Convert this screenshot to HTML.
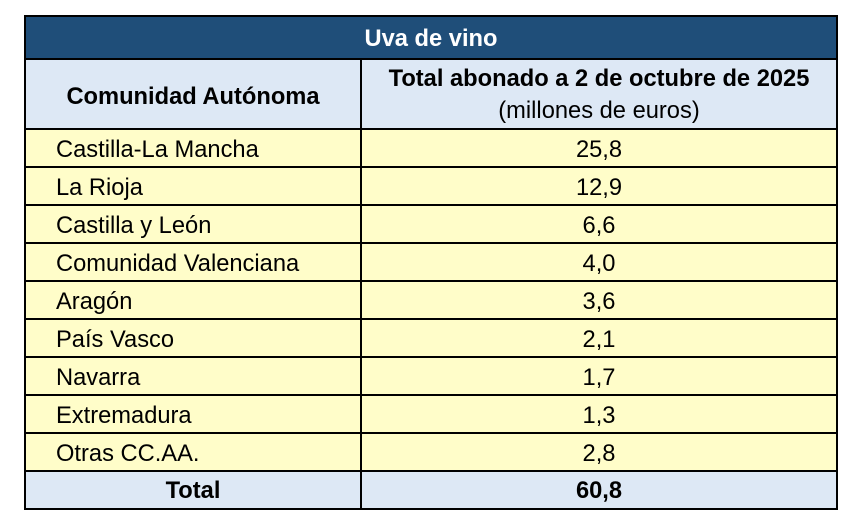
<!DOCTYPE html>
<html><head><style>
body{margin:0;width:866px;height:524px;background:#fff;font-family:"Liberation Sans",sans-serif;position:relative;overflow:hidden}
.b{position:absolute;box-sizing:border-box}
.t{position:absolute;white-space:nowrap;font-size:23.7px;color:#000}
</style></head><body>
<div class="b" style="left:24px;top:15px;width:814px;height:495px;border:2px solid #000;background:#fff"></div>
<div class="b" style="left:26px;top:17px;width:810px;height:41px;background:#1f4e79"></div>
<div class="b" style="left:26px;top:60px;width:810px;height:68px;background:#dde8f5"></div>
<div class="b" style="left:26px;top:130px;width:810px;height:340px;background:#fffdc9"></div>
<div class="b" style="left:26px;top:472px;width:810px;height:36px;background:#dde8f5"></div>
<div class="b" style="left:24px;top:58px;width:814px;height:2px;background:#000"></div>
<div class="b" style="left:24px;top:128px;width:814px;height:2px;background:#000"></div>
<div class="b" style="left:24px;top:166px;width:814px;height:2px;background:#000"></div>
<div class="b" style="left:24px;top:204px;width:814px;height:2px;background:#000"></div>
<div class="b" style="left:24px;top:242px;width:814px;height:2px;background:#000"></div>
<div class="b" style="left:24px;top:280px;width:814px;height:2px;background:#000"></div>
<div class="b" style="left:24px;top:318px;width:814px;height:2px;background:#000"></div>
<div class="b" style="left:24px;top:356px;width:814px;height:2px;background:#000"></div>
<div class="b" style="left:24px;top:394px;width:814px;height:2px;background:#000"></div>
<div class="b" style="left:24px;top:432px;width:814px;height:2px;background:#000"></div>
<div class="b" style="left:24px;top:470px;width:814px;height:2px;background:#000"></div>
<div class="b" style="left:360px;top:58px;width:2px;height:452px;background:#000"></div>
<div class="t" style="left:26px;width:810px;top:26px;text-align:center;color:#fff;font-weight:bold">Uva de vino</div>
<div class="t" style="left:26px;width:334px;top:84px;text-align:center;font-weight:bold">Comunidad Autónoma</div>
<div class="t" style="left:362px;width:474px;top:66px;text-align:center;font-weight:bold">Total abonado a 2 de octubre de 2025</div>
<div class="t" style="left:362px;width:474px;top:98px;text-align:center">(millones de euros)</div>
<div class="t" style="left:56px;top:137px">Castilla-La Mancha</div><div class="t" style="left:362px;width:474px;text-align:center;top:137px">25,8</div>
<div class="t" style="left:56px;top:175px">La Rioja</div><div class="t" style="left:362px;width:474px;text-align:center;top:175px">12,9</div>
<div class="t" style="left:56px;top:213px">Castilla y León</div><div class="t" style="left:362px;width:474px;text-align:center;top:213px">6,6</div>
<div class="t" style="left:56px;top:251px">Comunidad Valenciana</div><div class="t" style="left:362px;width:474px;text-align:center;top:251px">4,0</div>
<div class="t" style="left:56px;top:289px">Aragón</div><div class="t" style="left:362px;width:474px;text-align:center;top:289px">3,6</div>
<div class="t" style="left:56px;top:327px">País Vasco</div><div class="t" style="left:362px;width:474px;text-align:center;top:327px">2,1</div>
<div class="t" style="left:56px;top:365px">Navarra</div><div class="t" style="left:362px;width:474px;text-align:center;top:365px">1,7</div>
<div class="t" style="left:56px;top:403px">Extremadura</div><div class="t" style="left:362px;width:474px;text-align:center;top:403px">1,3</div>
<div class="t" style="left:56px;top:441px">Otras CC.AA.</div><div class="t" style="left:362px;width:474px;text-align:center;top:441px">2,8</div>
<div class="t" style="left:26px;width:334px;text-align:center;top:478px;font-weight:bold">Total</div><div class="t" style="left:362px;width:474px;text-align:center;top:478px;font-weight:bold">60,8</div>
</body></html>
